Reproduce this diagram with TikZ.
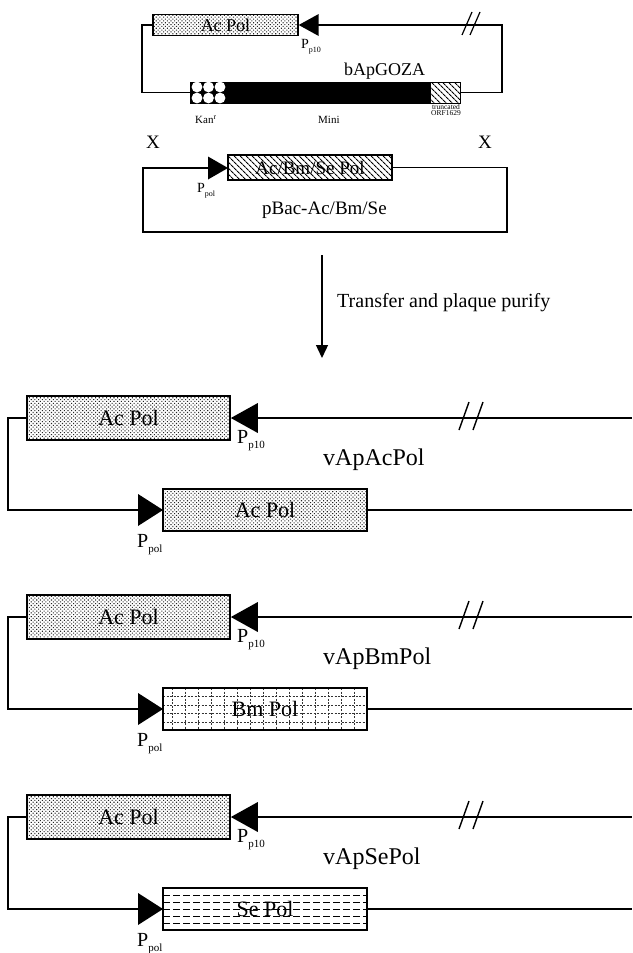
\documentclass[tikz,border=0pt]{standalone}
\usepackage{fontspec}
\setmainfont{Liberation Serif}
\usetikzlibrary{patterns,patterns.meta,arrows.meta}
\newcommand\fsz[1]{\fontsize{#1}{#1}\selectfont}
\newcommand\Pbig[1]{{\fsz{20}P}\raisebox{-5pt}{\fsz{11}#1}}
\newcommand\Psmall[1]{{\fsz{14}P}\raisebox{-4pt}{\fsz{8}#1}}
\newcommand\vapsection[5]{%
\begin{scope}[shift={(0,#1)}]
\node[acbox, minimum width=203pt, minimum height=44pt] (#2top) at (128.5,0) {Ac Pol};
\fill (#2top.east) -- ++(27,-15) -- ++(0,30) -- cycle;
\coordinate (#2p10) at (257,0);
\coordinate (#2e1) at (632,0);
\draw[dna] (#2p10) -- (#2e1);
\draw[slash] (459,12) -- (469,-16);
\draw[slash] (473,12) -- (483,-16);
\coordinate (#2c) at (8,92);
\coordinate (#2pb) at (138,92);
\draw[dna] (#2top.west) -| (#2c) -- (#2pb);
\fill (#2pb) -- ++(0,-16) -- ++(25,16) -- ++(-25,16) -- cycle;
\node[#3, minimum width=204pt, minimum height=42pt] (#2bot) at (265,92) {#4};
\coordinate (#2e2) at (632,92);
\draw[dna] (#2bot.east) -- (#2e2);
\node[lbl] (#2lp10) at (237,25) {\Pbig{p10}};
\node[lbl] (#2lpol) at (137,129) {\Pbig{pol}};
\node[lbl, font=\fsz{24}] (#2name) at (323,47) {#5};
\end{scope}}
\begin{document}
\begin{tikzpicture}[x=1pt,y=-1pt,
  dna/.style={line width=2pt},
  tdna/.style={line width=1.6pt},
  slash/.style={line width=1.4pt},
  lbl/.style={anchor=base west, inner sep=0pt},
  genebox/.style={draw, line width=1.7pt, inner sep=0pt, font=\fsz{22}},
  acbox/.style={genebox, preaction={fill=white}, pattern={Dots[radius=0.75pt, distance=2.6pt, angle=45]}, pattern color=black!85},
  bmbox/.style={genebox, fill=white, path picture={
      \foreach \i in {1,...,16}
        \draw[black!80, dash pattern=on 2pt off 1.5pt, line width=0.8pt]
          ([xshift=\i*13pt-4pt]path picture bounding box.north west) -- ([xshift=\i*13pt-4pt]path picture bounding box.south west);
      \foreach \j in {1,...,4}
        \draw[black!80, dash pattern=on 2pt off 1.5pt, line width=0.8pt]
          ([yshift=-\j*8.5pt]path picture bounding box.north west) -- ([yshift=-\j*8.5pt]path picture bounding box.north east);
    }},
  sebox/.style={genebox, fill=white, path picture={
      \foreach \dy in {-14,-7,0,7,14}
        \draw[dash pattern=on 7pt off 3pt, line width=0.85pt]
          ([yshift=\dy pt]path picture bounding box.west) -- ([yshift=\dy pt]path picture bounding box.east);
    }},
  hatchbox/.style={draw, line width=1.5pt, inner sep=0pt, preaction={fill=white}, pattern={Lines[angle=-45, distance=4pt, line width=1.1pt]}}
]
\fill[white] (0,0) rectangle (632,953);
\useasboundingbox (0,0) rectangle (632,953);

% ---------- bApGOZA ----------
\node[acbox, line width=1.4pt, font=\fsz{18}, minimum width=145pt, minimum height=21pt] (topac) at (225.5,25) {Ac Pol};
\fill (topac.east) -- ++(20,-11) -- ++(0,22) -- cycle;
\coordinate (tp10) at (318,25);
\coordinate (tr) at (502,25);
\coordinate (tbr) at (502,92.5);
\coordinate (tl) at (142,92.5);
\node[fill=black, draw, line width=1pt, inner sep=0pt, minimum width=270pt, minimum height=21pt] (mini) at (325,92.5) {};
\foreach \x in {197,208.5,220} \foreach \y in {87,98}
  \fill[white] (\x,\y) circle[radius=5.4];
\node[hatchbox, line width=1pt, minimum width=30pt, minimum height=21pt] (trunc) at (445,92.5) {};
\draw[tdna] (tp10) -- (tr) -- (tbr) -- (mini.east);
\draw[tdna] (topac.west) -| (tl) -- (mini.west);
\draw[slash, line width=1.2pt] (462,35) -- (472,12);
\draw[slash, line width=1.2pt] (470,35) -- (480,12);
\node[lbl] (tlp10) at (301,48) {\Psmall{p10}};
\node[lbl, font=\fsz{18}] (tname) at (344,75) {bApGOZA};
\node[lbl, font=\fsz{11}] (kan) at (195,123) {Kan$^{\mathrm{r}}$};
\node[lbl, font=\fsz{11}] (minil) at (318,123) {Mini};
\node[anchor=base, inner sep=0pt, font=\fsz{7.5}, align=center] (orf) at (446,115) {truncated\\[-1.5pt]ORF1629};

% ---------- X ----------
\node[lbl, font=\fsz{19}] (xl) at (146,148) {X};
\node[lbl, font=\fsz{19}] (xr) at (478,148) {X};

% ---------- pBac ----------
\coordinate (pbb) at (208,168);
\fill (pbb) -- ++(0,-11.5) -- ++(20,11.5) -- ++(-20,11.5) -- cycle;
\node[hatchbox, font=\fsz{19}, minimum width=164pt, minimum height=25pt] (pbhx) at (310,167.5) {Ac/Bm/Se Pol};
\coordinate (pl1) at (143,232);
\coordinate (pl2) at (507,232);
\coordinate (pl3) at (507,167.5);
\draw[tdna] (pbb) -| (pl1) -- (pl2) -- (pl3) -- (pbhx.east);
\node[lbl] (pbpol) at (197,192) {\Psmall{pol}};
\node[lbl, font=\fsz{19}] (pbname) at (262,214) {pBac-Ac/Bm/Se};

% ---------- arrow ----------
\coordinate (a1) at (322,255);
\coordinate (a2) at (322,358);
\draw[line width=1.3pt, -{Triangle[width=12pt,length=13pt]}] (a1) -- (a2);
\node[lbl, font=\fsz{20}] (tr1) at (337,307) {Transfer and plaque purify};

% ---------- recombinants ----------
\vapsection{418}{s1}{acbox}{Ac Pol}{vApAcPol}
\vapsection{617}{s2}{bmbox}{Bm Pol}{vApBmPol}
\vapsection{817}{s3}{sebox}{Se Pol}{vApSePol}
\end{tikzpicture}
\end{document}
